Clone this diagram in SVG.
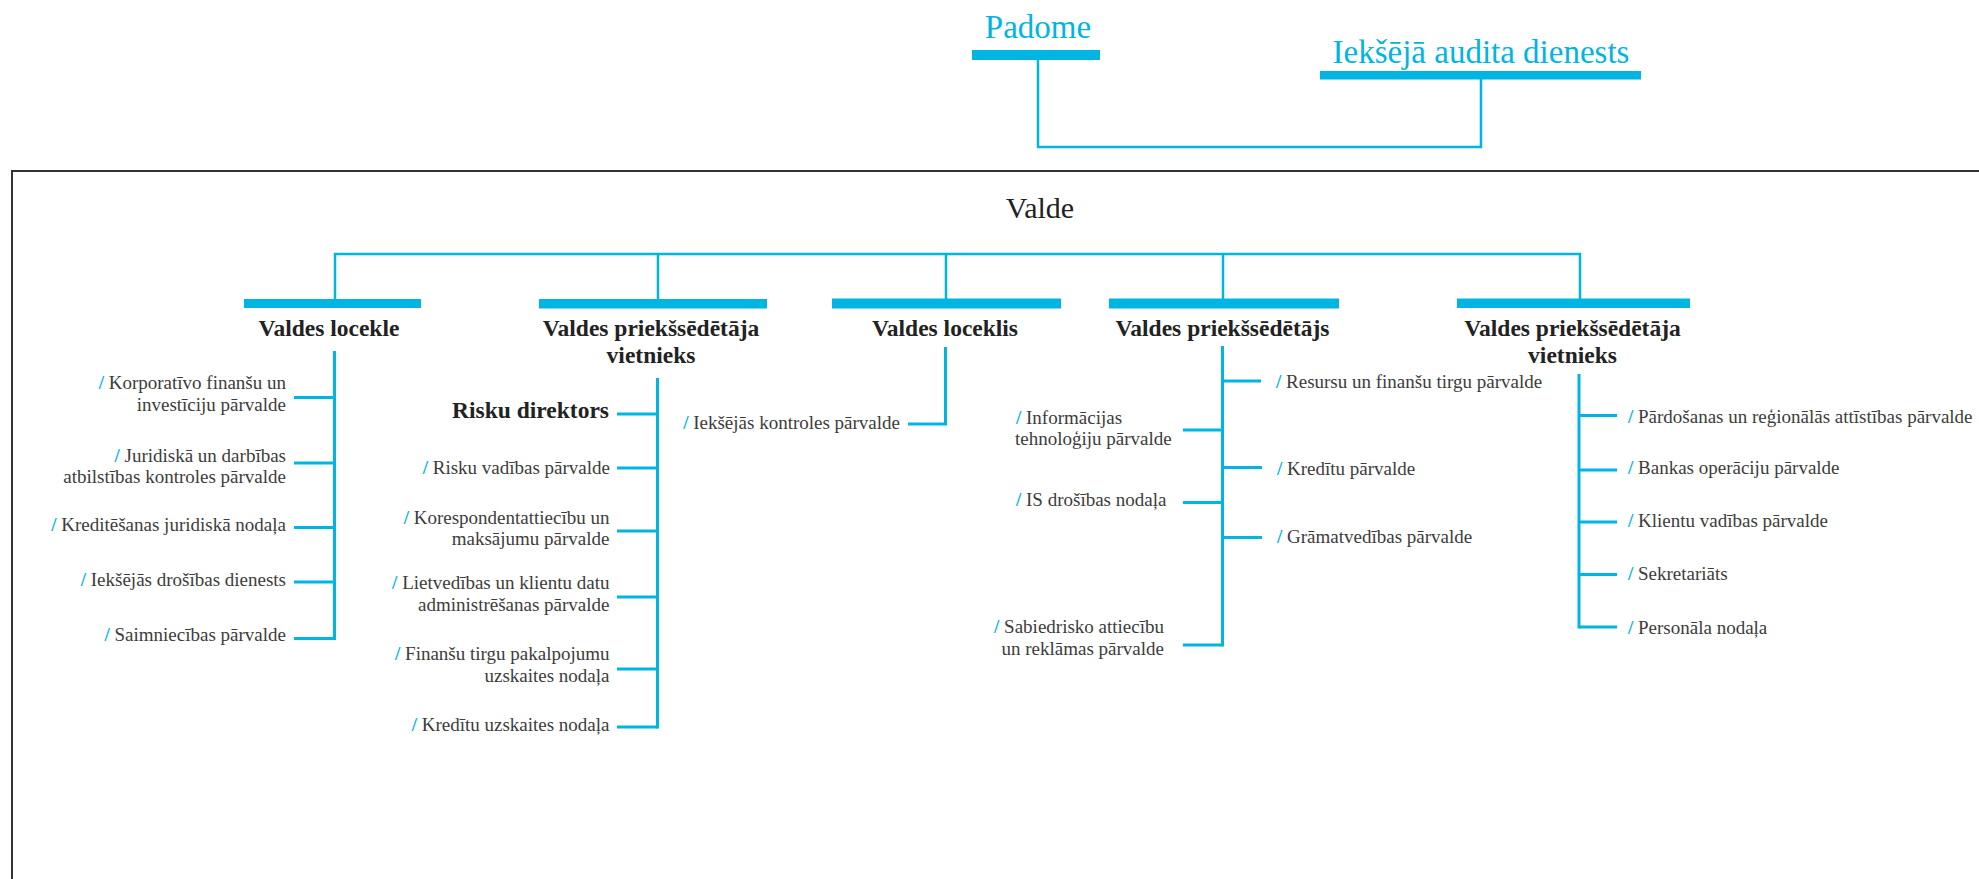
<svg xmlns="http://www.w3.org/2000/svg" width="1979" height="879" viewBox="0 0 1979 879">
<style>
.bg{fill:#ffffff}
.frame{fill:none;stroke:#333333;stroke-width:2}
.bar{fill:#00b5e2}
.ln{fill:none;stroke:#00b5e2;stroke-width:2.5}
.cl{fill:none;stroke:#00b5e2;stroke-width:3}
.top{font-family:"Liberation Serif",serif;font-size:33px;fill:#00b5e2;text-anchor:middle}
.valde{font-family:"Liberation Serif",serif;font-size:30px;fill:#222222;text-anchor:middle}
.hd{font-family:"Liberation Serif",serif;font-size:23.5px;font-weight:bold;fill:#222222;text-anchor:middle}
.hdr{font-family:"Liberation Serif",serif;font-size:23.5px;font-weight:bold;fill:#222222;text-anchor:end}
.it{font-family:"Liberation Serif",serif;font-size:19px;fill:#3c3c3c}
.r{text-anchor:end}
.l{text-anchor:start}
.sl{fill:#00b5e2;font-weight:bold}
</style>
<rect class="bg" x="0" y="0" width="1979" height="879"/>
<rect class="frame" x="12" y="171" width="2000" height="760"/>

<g id="connectors">
  <polyline class="ln" points="1038,60 1038,147 1481,147 1481,79"/>
  <polyline class="ln" points="335,299 335,254 1580,254 1580,299"/>
  <line class="ln" x1="658" y1="254" x2="658" y2="299"/>
  <line class="ln" x1="946" y1="254" x2="946" y2="299"/>
  <line class="ln" x1="1223" y1="254" x2="1223" y2="299"/>
  <!-- column 1 -->
  <line class="cl" x1="334.5" y1="351" x2="334.5" y2="640"/>
  <line class="cl" x1="294" y1="397.5" x2="334.5" y2="397.5"/>
  <line class="cl" x1="294" y1="463" x2="334.5" y2="463"/>
  <line class="cl" x1="294" y1="527.5" x2="334.5" y2="527.5"/>
  <line class="cl" x1="294" y1="582" x2="334.5" y2="582"/>
  <line class="cl" x1="294" y1="638.5" x2="334.5" y2="638.5"/>
  <!-- column 2 -->
  <line class="cl" x1="657.5" y1="378" x2="657.5" y2="728.5"/>
  <line class="cl" x1="617" y1="414" x2="657.5" y2="414"/>
  <line class="cl" x1="617" y1="468" x2="657.5" y2="468"/>
  <line class="cl" x1="617" y1="531" x2="657.5" y2="531"/>
  <line class="cl" x1="617" y1="597" x2="657.5" y2="597"/>
  <line class="cl" x1="617" y1="669" x2="657.5" y2="669"/>
  <line class="cl" x1="617" y1="727" x2="657.5" y2="727"/>
  <!-- column 3 -->
  <polyline class="cl" points="945.5,347 945.5,424 908,424"/>
  <!-- column 4 -->
  <line class="cl" x1="1222.5" y1="346" x2="1222.5" y2="646.5"/>
  <line class="cl" x1="1222.5" y1="381" x2="1261" y2="381"/>
  <line class="cl" x1="1222.5" y1="467.5" x2="1262" y2="467.5"/>
  <line class="cl" x1="1222.5" y1="537.5" x2="1262" y2="537.5"/>
  <line class="cl" x1="1183" y1="430" x2="1222.5" y2="430"/>
  <line class="cl" x1="1183" y1="502.5" x2="1222.5" y2="502.5"/>
  <line class="cl" x1="1183" y1="645" x2="1222.5" y2="645"/>
  <!-- column 5 -->
  <line class="cl" x1="1579" y1="374" x2="1579" y2="628.5"/>
  <line class="cl" x1="1579" y1="415.5" x2="1617" y2="415.5"/>
  <line class="cl" x1="1579" y1="470" x2="1617" y2="470"/>
  <line class="cl" x1="1579" y1="522" x2="1617" y2="522"/>
  <line class="cl" x1="1579" y1="574.5" x2="1617" y2="574.5"/>
  <line class="cl" x1="1579" y1="627" x2="1617" y2="627"/>
</g>

<g id="padome">
  <text class="top" x="1038" y="38">Padome</text>
  <rect class="bar" x="972" y="50" width="128" height="10"/>
</g>
<g id="audits">
  <text class="top" x="1481" y="63">Iekšējā audita dienests</text>
  <rect class="bar" x="1320" y="71" width="321" height="8.5"/>
</g>
<g id="valde">
  <text class="valde" x="1040" y="218">Valde</text>
</g>

<g id="valdes-locekle">
  <rect class="bar" x="244" y="299" width="177" height="9"/>
  <text class="hd" x="329" y="336">Valdes locekle</text>
</g>
<g id="vietnieks-1">
  <rect class="bar" x="539" y="299" width="228" height="9.5"/>
  <text class="hd" x="651" y="336">Valdes priekšsēdētāja</text>
  <text class="hd" x="651" y="363">vietnieks</text>
</g>
<g id="valdes-loceklis">
  <rect class="bar" x="832" y="298.5" width="229" height="10"/>
  <text class="hd" x="945" y="336">Valdes loceklis</text>
</g>
<g id="priekssedetajs">
  <rect class="bar" x="1109" y="298.5" width="230" height="10"/>
  <text class="hd" x="1222.5" y="336">Valdes priekšsēdētājs</text>
</g>
<g id="vietnieks-2">
  <rect class="bar" x="1457" y="298.5" width="233" height="9.5"/>
  <text class="hd" x="1572.5" y="336">Valdes priekšsēdētāja</text>
  <text class="hd" x="1572.5" y="363">vietnieks</text>
</g>

<g id="col1-items">
  <g id="korporativo"><text class="it r" x="286" y="389"><tspan class="sl">/</tspan> Korporatīvo finanšu un</text><text class="it r" x="286" y="410.5">investīciju pārvalde</text></g>
  <g id="juridiska"><text class="it r" x="286" y="461.5"><tspan class="sl">/</tspan> Juridiskā un darbības</text><text class="it r" x="286" y="483">atbilstības kontroles pārvalde</text></g>
  <g id="kreditesanas"><text class="it r" x="286" y="530.5"><tspan class="sl">/</tspan> Kreditēšanas juridiskā nodaļa</text></g>
  <g id="iekss-drosibas"><text class="it r" x="286" y="585.5"><tspan class="sl">/</tspan> Iekšējās drošības dienests</text></g>
  <g id="saimniecibas"><text class="it r" x="286" y="640.5"><tspan class="sl">/</tspan> Saimniecības pārvalde</text></g>
</g>

<g id="col2-items">
  <g id="risku-direktors"><text class="hdr" x="609" y="417.5">Risku direktors</text></g>
  <g id="risku-vadibas"><text class="it r" x="610" y="473.5"><tspan class="sl">/</tspan> Risku vadības pārvalde</text></g>
  <g id="korespondent"><text class="it r" x="609.5" y="523.5"><tspan class="sl">/</tspan> Korespondentattiecību un</text><text class="it r" x="609.5" y="545">maksājumu pārvalde</text></g>
  <g id="lietvedibas"><text class="it r" x="609.5" y="588.5"><tspan class="sl">/</tspan> Lietvedības un klientu datu</text><text class="it r" x="609.5" y="610.5">administrēšanas pārvalde</text></g>
  <g id="finansu-tirgu"><text class="it r" x="609.5" y="660"><tspan class="sl">/</tspan> Finanšu tirgu pakalpojumu</text><text class="it r" x="609.5" y="682">uzskaites nodaļa</text></g>
  <g id="kreditu-uzskaites"><text class="it r" x="609.5" y="730.5"><tspan class="sl">/</tspan> Kredītu uzskaites nodaļa</text></g>
</g>

<g id="col3-items">
  <g id="iekss-kontroles"><text class="it r" x="900" y="429"><tspan class="sl">/</tspan> Iekšējās kontroles pārvalde</text></g>
</g>

<g id="col4-items">
  <g id="resursu"><text class="it l" x="1276" y="388"><tspan class="sl">/</tspan> Resursu un finanšu tirgu pārvalde</text></g>
  <g id="kreditu"><text class="it l" x="1277" y="475"><tspan class="sl">/</tspan> Kredītu pārvalde</text></g>
  <g id="gramatvedibas"><text class="it l" x="1277" y="543"><tspan class="sl">/</tspan> Grāmatvedības pārvalde</text></g>
  <g id="informacijas"><text class="it l" x="1016" y="423.5"><tspan class="sl">/</tspan> Informācijas</text><text class="it l" x="1015" y="445">tehnoloģiju pārvalde</text></g>
  <g id="is-drosibas"><text class="it l" x="1016" y="505.5"><tspan class="sl">/</tspan> IS drošības nodaļa</text></g>
  <g id="sabiedrisko"><text class="it r" x="1164" y="633"><tspan class="sl">/</tspan> Sabiedrisko attiecību</text><text class="it r" x="1164" y="654.5">un reklāmas pārvalde</text></g>
</g>

<g id="col5-items">
  <g id="pardosanas"><text class="it l" x="1628" y="423"><tspan class="sl">/</tspan> Pārdošanas un reģionālās attīstības pārvalde</text></g>
  <g id="bankas"><text class="it l" x="1628" y="473.5"><tspan class="sl">/</tspan> Bankas operāciju pārvalde</text></g>
  <g id="klientu"><text class="it l" x="1628" y="526.5"><tspan class="sl">/</tspan> Klientu vadības pārvalde</text></g>
  <g id="sekretariats"><text class="it l" x="1628" y="579.5"><tspan class="sl">/</tspan> Sekretariāts</text></g>
  <g id="personala"><text class="it l" x="1628" y="634"><tspan class="sl">/</tspan> Personāla nodaļa</text></g>
</g>
</svg>
